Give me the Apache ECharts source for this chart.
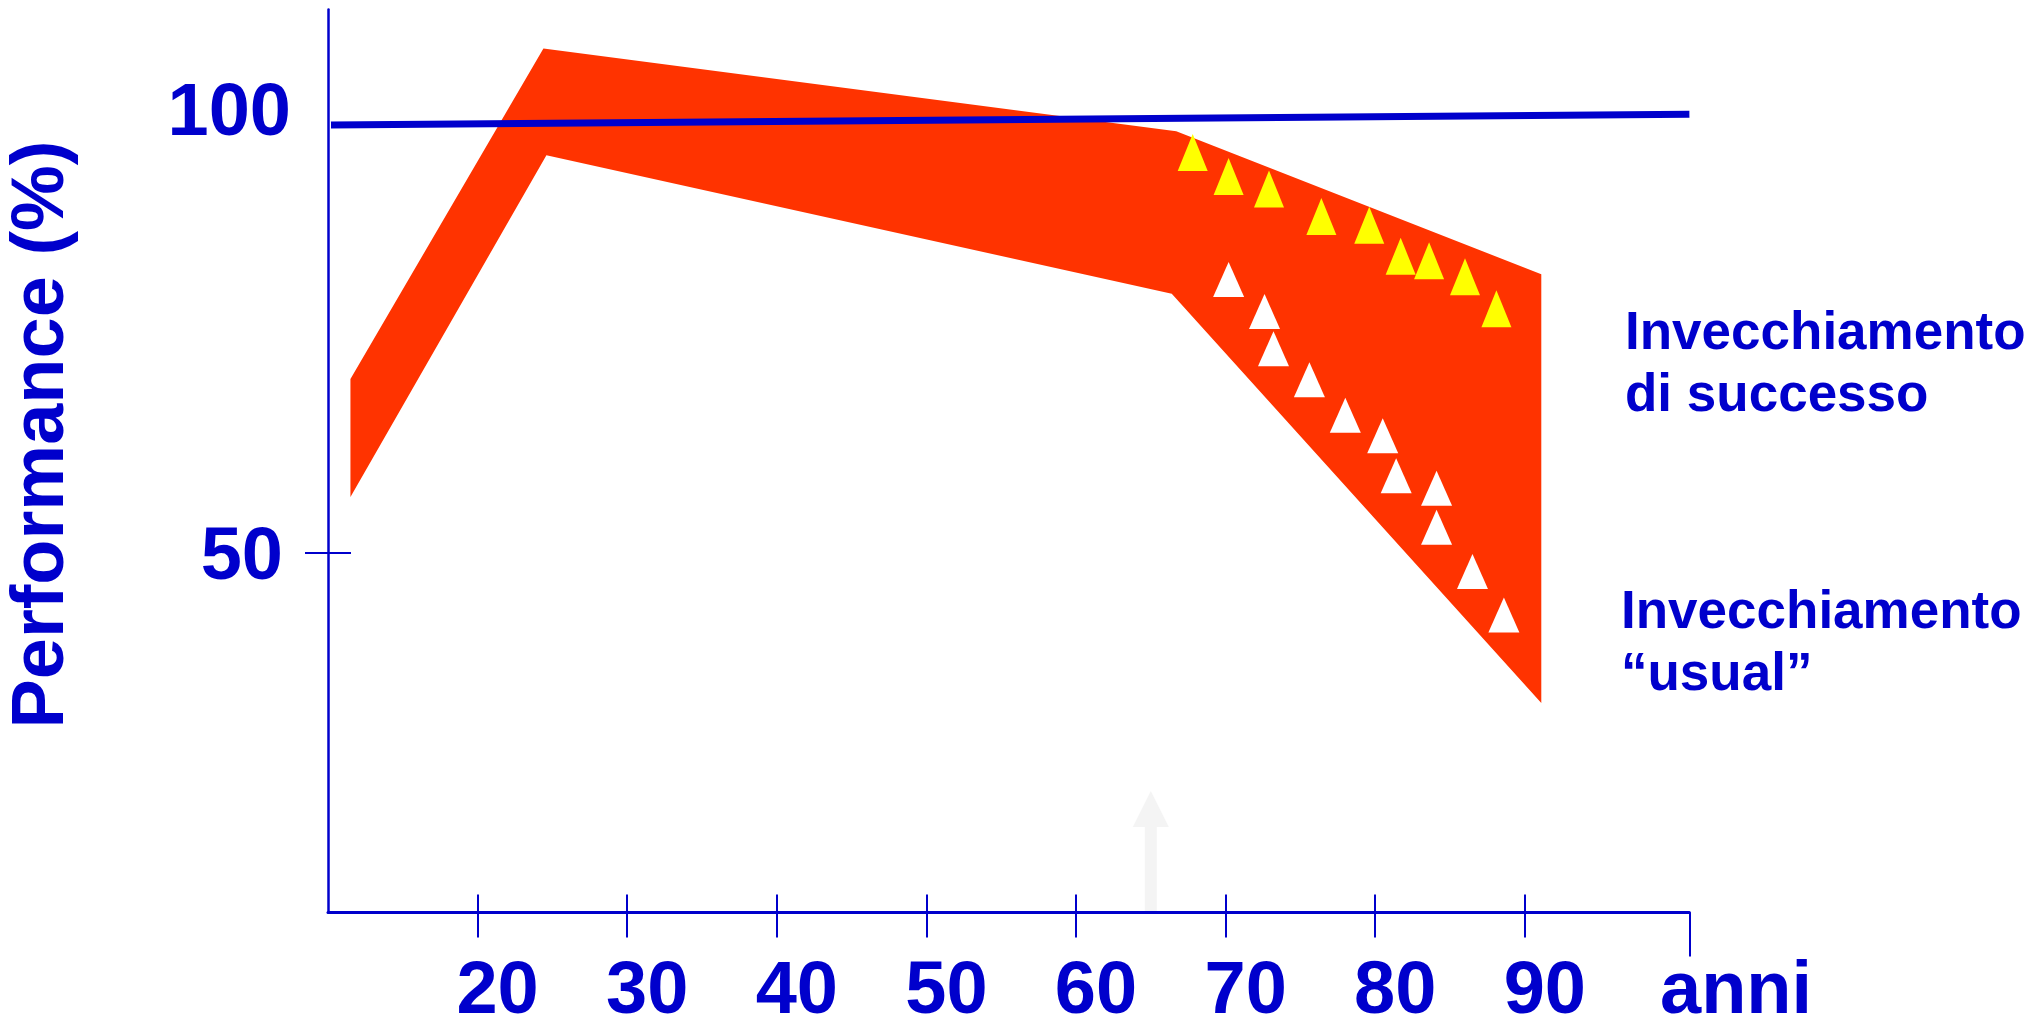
<!DOCTYPE html>
<html>
<head>
<meta charset="utf-8">
<title>Performance e invecchiamento</title>
<script src="https://cdn.jsdelivr.net/npm/echarts@6/dist/echarts.min.js"></script>
<style>
  html, body { margin: 0; padding: 0; background: #ffffff; }
  #chart { width: 2034px; height: 1018px; }
</style>
</head>
<body>
<div id="chart"></div>
<script>
// Age axis (anni) and performance axis (%)
const xTicks = [20, 30, 40, 50, 60, 70, 80, 90];
const xEndTick = [101];
const yTicks = [50];
const yLabels = [50, 100];

// Range of performance across ages: upper and lower edge of the band
const bandUpper = [[11.5, 69.6], [24.4, 106.8], [66.7, 97.5], [91.1, 81.4]];
const bandLower = [[11.5, 56.3], [24.6, 94.8], [66.4, 79.2], [91.1, 33.1]];

// Reference performance level
const referenceLine = [[10.2, 98.2], [101, 99.4]];

// Successful ageing (yellow) and usual ageing (white)
const successAgeing = [
  [67.8, 95.1], [70.2, 92.4], [72.9, 91.0], [76.4, 87.9], [79.6, 86.9],
  [81.7, 83.4], [83.6, 82.9], [86.0, 81.1], [88.1, 77.5]
];
const usualAgeing = [
  [70.2, 80.8], [72.6, 77.2], [73.2, 73.0], [75.6, 69.5], [78.0, 65.5],
  [80.5, 63.2], [81.4, 58.7], [84.1, 57.3], [84.1, 52.9], [86.5, 47.9], [88.6, 43.0]
];

// Retirement-age marker: [age, from, to]
const retirementArrow = [[65, 9.5, 23.2]];

const BLUE = '#0000CC';
const RED = '#FF3300';
const YELLOW = '#FFFF00';
const GREY = '#F4F4F4';
const FONT = '"Liberation Sans", Arial, Helvetica, sans-serif';

const X_MIN = 10, X_MAX = 101;
const Y_MIN = 9.5, Y_MAX = 111.2;

const chart = echarts.init(document.getElementById('chart'), null, { renderer: 'canvas' });

const baseX = {
  type: 'value', min: X_MIN, max: X_MAX, position: 'bottom', z: 10,
  splitLine: { show: false }, axisLine: { show: false },
  axisTick: { show: false }, axisLabel: { show: false }
};
const baseY = {
  type: 'value', min: Y_MIN, max: Y_MAX, position: 'left', z: 10,
  splitLine: { show: false }, axisLine: { show: false },
  axisTick: { show: false }, axisLabel: { show: false }
};

const labelFont = { fontFamily: FONT, fontWeight: 'bold', fontSize: 74, lineHeight: 74, color: BLUE };

const option = {
  animation: false,
  backgroundColor: '#ffffff',
  grid: {
    left: 328, top: 9.5, right: 2034 - 1689.4, bottom: 1018 - 912.6,
    containLabel: false, outerBoundsMode: 'none'
  },
  xAxis: [
    Object.assign({}, baseX, {
      axisLine: { show: true, onZero: false, lineStyle: { color: BLUE, width: 3 } },
      axisTick: { show: true, customValues: xTicks, length: 25, lineStyle: { color: BLUE, width: 2 } },
      axisLabel: {
        show: true, customValues: xTicks, margin: 43,
        formatter: v => '{t|' + v + '}',
        rich: { t: Object.assign({ padding: [0, 0, 0, 40] }, labelFont) }
      },
      name: 'anni', nameLocation: 'end', nameGap: -29.4,
      nameTextStyle: Object.assign({
        align: 'left', verticalAlign: 'top', padding: [43, 0, 0, 0]
      }, labelFont)
    }),
    Object.assign({}, baseX, {
      axisTick: { show: true, inside: true, customValues: xTicks, length: 18, lineStyle: { color: BLUE, width: 2 } }
    }),
    Object.assign({}, baseX, {
      axisTick: { show: true, customValues: xEndTick, length: 44, lineStyle: { color: BLUE, width: 2 } }
    })
  ],
  yAxis: [
    Object.assign({}, baseY, {
      axisLine: { show: true, onZero: false, lineStyle: { color: BLUE, width: 2.5 } },
      axisTick: { show: true, customValues: yTicks, length: 23, lineStyle: { color: BLUE, width: 2 } },
      axisLabel: {
        show: true, customValues: yLabels, margin: 37,
        formatter: v => (v === 100 ? '{h|' : '{f|') + v + '}',
        rich: {
          h: Object.assign({ padding: [12, 0, 0, 0] }, labelFont),
          f: Object.assign({ padding: [12, 8, 0, 0] }, labelFont)
        }
      },
      name: 'Performance (%)', nameLocation: 'middle', nameRotate: 90, nameGap: 285,
      nameTextStyle: Object.assign({
        align: 'center', verticalAlign: 'middle', padding: [0, 0, 0, 53]
      }, labelFont)
    }),
    Object.assign({}, baseY, {
      axisTick: { show: true, inside: true, customValues: yTicks, length: 23, lineStyle: { color: BLUE, width: 2 } }
    })
  ],
  graphic: [
    {
      type: 'text', x: 1625, y: 303, z: 20,
      style: {
        text: 'Invecchiamento\ndi successo',
        font: 'bold 53px ' + FONT, lineHeight: 62,
        fill: BLUE, align: 'left', verticalAlign: 'top'
      }
    },
    {
      type: 'text', x: 1621, y: 582, z: 20,
      style: {
        text: 'Invecchiamento\n\u201Cusual\u201D',
        font: 'bold 53px ' + FONT, lineHeight: 62,
        fill: BLUE, align: 'left', verticalAlign: 'top'
      }
    }
  ],
  series: [
    {
      name: 'pensionamento', type: 'custom', z: 1, silent: true,
      xAxisIndex: 0, yAxisIndex: 0,
      data: retirementArrow,
      encode: { x: 0, y: [1, 2] },
      renderItem: (params, api) => {
        const base = api.coord([api.value(0), api.value(1)]);
        const tip = api.coord([api.value(0), api.value(2)]);
        const headH = 36, headW = 36, shaftW = 12;
        return {
          type: 'group',
          children: [
            {
              type: 'rect',
              shape: { x: base[0] - shaftW / 2, y: tip[1] + headH, width: shaftW, height: base[1] - tip[1] - headH },
              style: { fill: GREY }
            },
            {
              type: 'polygon',
              shape: { points: [[tip[0], tip[1]], [tip[0] + headW / 2, tip[1] + headH], [tip[0] - headW / 2, tip[1] + headH]] },
              style: { fill: GREY }
            }
          ]
        };
      }
    },
    {
      name: 'range', type: 'custom', z: 2, silent: true,
      xAxisIndex: 0, yAxisIndex: 0,
      data: bandUpper,
      encode: { x: 0, y: 1 },
      renderItem: (params, api) => {
        if (params.dataIndex !== 0) return null;
        const outline = bandUpper.concat(bandLower.slice().reverse()).map(p => api.coord(p));
        return { type: 'polygon', shape: { points: outline }, style: { fill: RED } };
      }
    },
    {
      name: 'riferimento', type: 'line', z: 3, silent: true,
      xAxisIndex: 0, yAxisIndex: 0,
      data: referenceLine, showSymbol: false, symbol: 'none',
      lineStyle: { color: BLUE, width: 7, cap: 'butt' }
    },
    {
      name: 'Invecchiamento di successo', type: 'scatter', z: 4, silent: true,
      xAxisIndex: 0, yAxisIndex: 0,
      data: successAgeing, symbol: 'triangle', symbolSize: [30, 37],
      itemStyle: { color: YELLOW, opacity: 1 }
    },
    {
      name: 'Invecchiamento usual', type: 'scatter', z: 4, silent: true,
      xAxisIndex: 0, yAxisIndex: 0,
      data: usualAgeing, symbol: 'triangle', symbolSize: [31, 35],
      itemStyle: { color: '#FFFFFF', opacity: 1 }
    }
  ]
};

chart.setOption(option);
</script>
</body>
</html>
